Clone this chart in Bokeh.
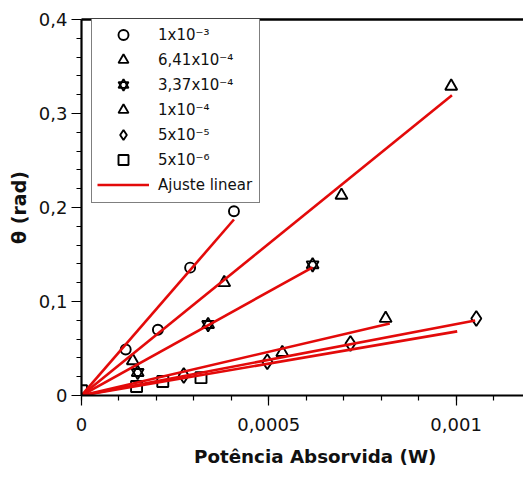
from bokeh.plotting import figure
from bokeh.models import (LinearAxis, Legend, LegendItem, FixedTicker, Range1d,
                          CustomJSTickFormatter)
from bokeh.embed import file_html
from bokeh.resources import INLINE

# ---- data ----
labels = ["1x10\u207b\u00b3", "6,41x10\u207b\u2074", "3,37x10\u207b\u2074",
          "1x10\u207b\u2074", "5x10\u207b\u2075", "5x10\u207b\u2076"]

x1 = [0.000118, 0.000204, 0.000290, 0.000407]
y1 = [0.049, 0.070, 0.136, 0.196]

x2 = [0.000137, 0.000381, 0.000694, 0.000987]
y2 = [0.037, 0.120, 0.213, 0.329]

x3 = [0.000150, 0.000338, 0.000617]
y3 = [0.0245, 0.0755, 0.139]

x4 = [0.000536, 0.000812]
y4 = [0.0457, 0.082]

x5 = [0.000273, 0.000496, 0.000718, 0.001054]
y5 = [0.0213, 0.036, 0.0553, 0.082]

x6 = [0.0, 0.000147, 0.000217, 0.000319]
y6 = [0.005, 0.0096, 0.0149, 0.019]

# linear fits (slope in rad/W, last x of each fitted line)
fit_slope = [460, 323, 221, 93, 76, 68]
fit_xend = [0.000407, 0.000989, 0.000617, 0.000823, 0.001051, 0.001003]

x_ticks = [0, 0.0005, 0.001]
y_ticks = [0, 0.1, 0.2, 0.3, 0.4]

FONT = "DejaVu Sans"
RED = "#e30a0a"

p = figure(width=523, height=477, output_backend="svg", toolbar_location=None,
           x_range=Range1d(0, 0.00118), y_range=Range1d(0, 0.4),
           min_border_left=81, min_border_right=0, min_border_top=19,
           min_border_bottom=82)
p.outline_line_color = None
p.grid.visible = False
p.background_fill_color = "white"

mk = dict(fill_color=None, line_color="black", line_width=1.9)
r1 = p.scatter(x1, y1, marker="circle", size=10, **mk)
r2 = p.scatter(x2, y2, marker="triangle", size=12, **mk)
r3a = p.scatter(x3, y3, marker="triangle", size=12, **mk)
r3b = p.scatter(x3, y3, marker="inverted_triangle", size=12, **mk)
r4 = p.scatter(x4, y4, marker="triangle", size=12, **mk)
r5 = p.scatter(x5, y5, marker="diamond", size=15, **mk)
r6 = p.scatter(x6, y6, marker="square", size=11, **mk)

line_rs = []
for s, xe in zip(fit_slope, fit_xend):
    lr = p.line([0, xe], [0, s * xe], line_color=RED, line_width=2.6)
    line_rs.append(lr)

# axes styling
fmt = CustomJSTickFormatter(code="""
if (tick == 0) return "0";
return tick.toString().replace(".", ",");
""")

xa = p.xaxis[0]
xa.ticker = FixedTicker(ticks=x_ticks,
                        minor_ticks=[i * 0.0001 for i in range(0, 12)])
xa.formatter = fmt
xa.axis_label = "\u00a0\u00a0\u00a0\u00a0Potência Absorvida (W)"

ya = p.yaxis[0]
ya.ticker = FixedTicker(ticks=y_ticks,
                        minor_ticks=[i * 0.02 for i in range(0, 21)])
ya.formatter = fmt
ya.axis_label = "θ (rad)"

for ax in (xa, ya):
    ax.axis_line_width = 2.2
    ax.axis_line_color = "black"
    ax.major_tick_line_color = "black"
    ax.minor_tick_line_color = "black"
    ax.major_tick_line_width = 1.2
    ax.minor_tick_line_width = 1.2
    ax.major_tick_in = 0
    ax.major_tick_out = 10
    ax.minor_tick_in = 0
    ax.minor_tick_out = 5
    ax.major_label_text_font = FONT
    ax.major_label_text_font_size = "18px"
    ax.major_label_text_color = "#111111"
    ax.axis_label_text_font = FONT
    ax.axis_label_text_font_style = "bold"
    ax.axis_label_text_font_size = "18.3px"
    ax.axis_label_text_color = "#111111"

ya.axis_label_text_font_size = "19px"
xa.major_label_standoff = 12
xa.axis_label_standoff = 12
ya.major_label_standoff = 4
ya.axis_label_standoff = 6

top = LinearAxis(ticker=FixedTicker(ticks=[]), axis_line_width=2.6,
                 axis_line_color="black", major_label_text_font_size="0px",
                 major_tick_out=0, minor_tick_out=0, axis_label=None)
p.add_layout(top, "above")

items = [LegendItem(label=labels[0], renderers=[r1]),
         LegendItem(label=labels[1], renderers=[r2]),
         LegendItem(label=labels[2], renderers=[r3a, r3b]),
         LegendItem(label=labels[3], renderers=[r4]),
         LegendItem(label=labels[4], renderers=[r5]),
         LegendItem(label=labels[5], renderers=[r6]),
         LegendItem(label="Ajuste linear", renderers=[line_rs[0]])]
leg = Legend(items=items, location=(10, 192), padding=5, spacing=0,
             glyph_height=25, label_height=25, glyph_width=52,
             label_standoff=9, label_width=96, margin=0,
             label_text_font=FONT, label_text_font_size="15px",
             label_text_color="#111111",
             border_line_color="black", border_line_width=1.2,
             background_fill_color="white", background_fill_alpha=1.0)
p.add_layout(leg, "center")

open("out.html", "w").write(file_html(p, INLINE))
